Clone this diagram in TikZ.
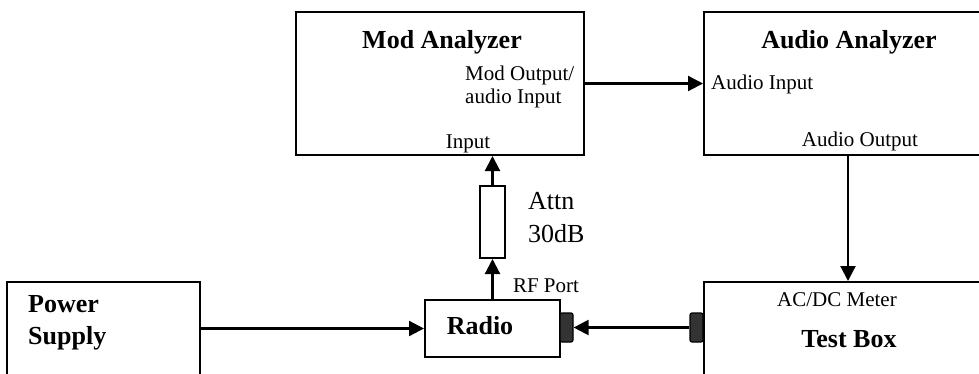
\documentclass[tikz,border=0pt]{standalone}
\usepackage{fontspec}
\setmainfont{Liberation Serif}
\usetikzlibrary{arrows.meta}

\begin{document}
\begin{tikzpicture}[x=1pt, y=-1pt,
    box/.style={draw, line width=2pt, inner sep=0pt},
    plug/.style={draw, line width=1.2pt, fill=black!80, rounded corners=2pt, minimum width=13pt, minimum height=29pt, inner sep=0pt},
    wire/.style={line width=2.2pt, -{Triangle[length=15pt, width=15pt]}},
    title/.style={font=\fontsize{26}{32}\selectfont\bfseries, inner sep=0pt},
    port/.style={font=\fontsize{21}{23}\selectfont, inner sep=0pt}]

\useasboundingbox (0,0) rectangle (979,373);
\clip (0,0) rectangle (979,373);

\node[box, minimum width=288pt, minimum height=143pt] (mod) at (440,83.5) {};
\node[box, minimum width=296pt, minimum height=143pt] (audio) at (852,83.5) {};
\node[box, minimum width=296pt, minimum height=138pt] (test) at (852,351) {};
\node[box, minimum width=193pt, minimum height=138pt] (power) at (103.5,351) {};
\node[box, minimum width=135pt, minimum height=57pt] (radio) at (492.5,328.5) {};
\node[box, minimum width=25pt, minimum height=72pt] (attn) at (492.5,222) {};
\node[plug] (rplug) at (566.5,327.5) {};
\node[plug] (tplug) at (696.5,327.5) {};

\node[title] (modname) at (442,42) {Mod Analyzer};
\node[port, align=left, anchor=west] (modout) at (465,87) {Mod Output/\\audio Input};
\node[port] (modin) at (468,144) {Input};
\node[title] (audioname) at (849,42) {Audio Analyzer};
\node[port, anchor=west] (audioin) at (711,84) {Audio Input};
\node[port] (audioout) at (860,141) {Audio Output};
\node[port] (meter) at (837,300) {AC/DC Meter};
\node[title] (testname) at (849,339) {Test Box};
\node[title, align=left, anchor=west] (powername) at (28,323) {Power\\Supply};
\node[title] (radioname) at (480,326) {Radio};
\node[port] (rfport) at (546,286) {RF Port};
\node[anchor=west, align=left, inner sep=0pt, font=\fontsize{26}{33}\selectfont] (attnname) at (528,218) {Attn\\30dB};

\draw[wire] (radio.west -| power.east) -- (radio.west);
\draw[wire] (radio.north) -- (attn.south);
\draw[wire] (attn.north) -- (attn.north |- mod.south);
\draw[wire] (mod.east) -- (audio.west);
\draw[wire] ([xshift=-4pt]audio.south) -- ([xshift=-4pt]test.north);
\draw[wire] (tplug.west) -- (rplug.east);

\end{tikzpicture}
\end{document}
